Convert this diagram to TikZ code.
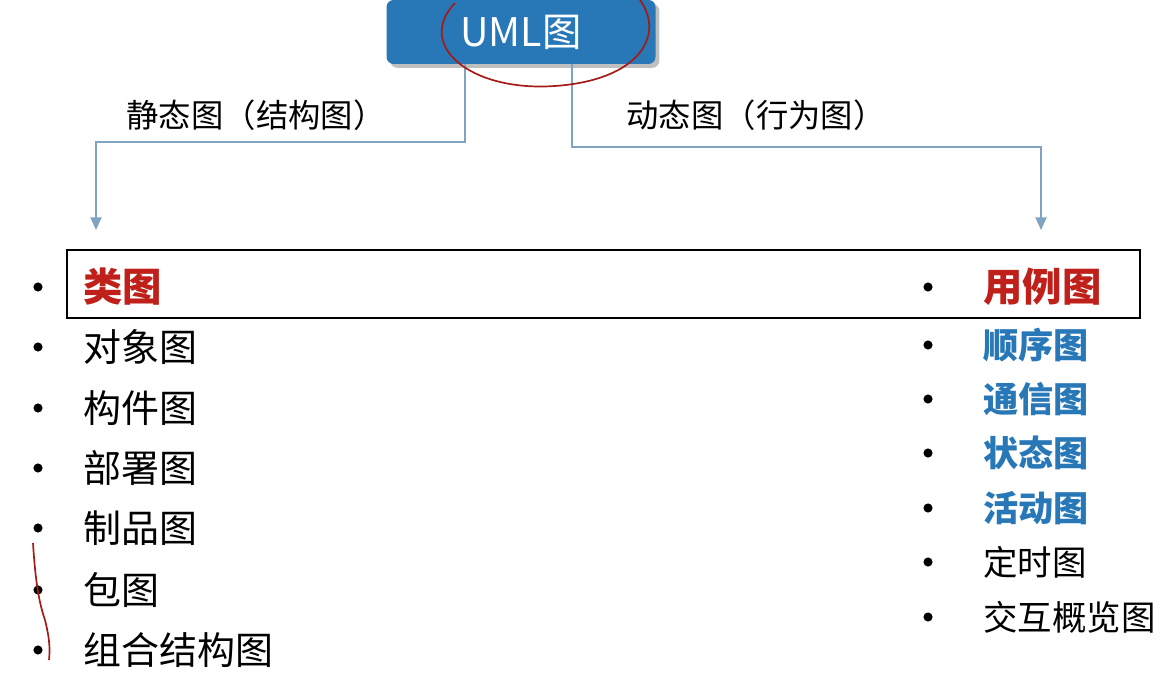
\documentclass[tikz,border=0pt]{standalone}
\usepackage{fontspec}
\setmainfont{Noto Sans CJK SC}
\usetikzlibrary{positioning,shadows,arrows.meta}
\definecolor{umlblue}{HTML}{2878B8}
\definecolor{linkblue}{HTML}{7FA3C0}
\definecolor{keyred}{HTML}{C0201A}
\tikzset{
  item/.style={anchor=west,inner sep=0pt,font=\fontsize{27}{30}\selectfont},
  ritem/.style={item,font=\fontsize{24.5}{30}\selectfont},
  hot/.style={item,text=keyred,font=\fontsize{28}{30}\selectfont\bfseries},
  cool/.style={item,text=umlblue,font=\fontsize{25}{30}\selectfont\bfseries},
  dot/.style={circle,fill=black,inner sep=0pt,minimum size=6.5pt},
  link/.style={draw=linkblue,line width=1pt,-{Triangle[length=9pt,width=8pt]},shorten >=0pt},
  scribble/.style={draw=keyred!85!black,line width=1.2pt}
}
\begin{document}
\begin{tikzpicture}[x=0.025cm,y=-0.025cm]
  \useasboundingbox (0,0) rectangle (1168,694);
  % top box
  \node (uml) [rounded corners=5pt,fill=umlblue,drop shadow,minimum width=269*0.025cm,
    minimum height=64*0.025cm,text=white,font=\fontsize{28}{30}\selectfont] at (521,32) {UML图};
  \coordinate (sarrow) at (96,230);
  \coordinate (darrow) at (1041,230);
  \draw[link] ([xshift=-56*0.025cm]uml.south) |- (300,142) -| (sarrow);
  \draw[link] ([xshift=51*0.025cm]uml.south) |- (800,147) -| (darrow);
  \node (slabel) [anchor=center,font=\fontsize{23}{28}\selectfont] at (256,115) {静态图（结构图）};
  \node (dlabel) [anchor=center,font=\fontsize{23}{28}\selectfont] at (756,115) {动态图（行为图）};
  % frame round the first row
  \node (frame) [draw=black,line width=1.3pt,minimum width=1073*0.025cm,minimum height=68*0.025cm,
    inner sep=0pt] at (603.5,284) {};
  % static diagrams
  \foreach \y/\t/\s [count=\i] in {287/类图/hot,347/对象图/item,408/构件图/item,468/部署图/item,
      528/制品图/item,590/包图/item,650/组合结构图/item} {
    \node (sdot\i) [dot] at (38,\y) {};
    \node (s\i) [\s] at (83,\y) {\t};
  }
  % dynamic diagrams
  \foreach \y/\t/\s [count=\i] in {287/用例图/hot,345/顺序图/cool,399/通信图/cool,453/状态图/cool,
      508/活动图/cool,562/定时图/ritem,617/交互概览图/ritem} {
    \node (ddot\i) [dot] at (928,\y) {};
    \node (d\i) [\s] at (983,\y) {\t};
  }
  % pen marks
  \draw[scribble] (455,3) .. controls (415,45) and (470,92) .. (555,86)
    .. controls (640,80) and (665,35) .. (640,0);
  \draw[scribble] (33,543) .. controls (35,575) and (38,600) .. (45,620)
    .. controls (50,640) and (50,650) .. (49,660);
\end{tikzpicture}
\end{document}
